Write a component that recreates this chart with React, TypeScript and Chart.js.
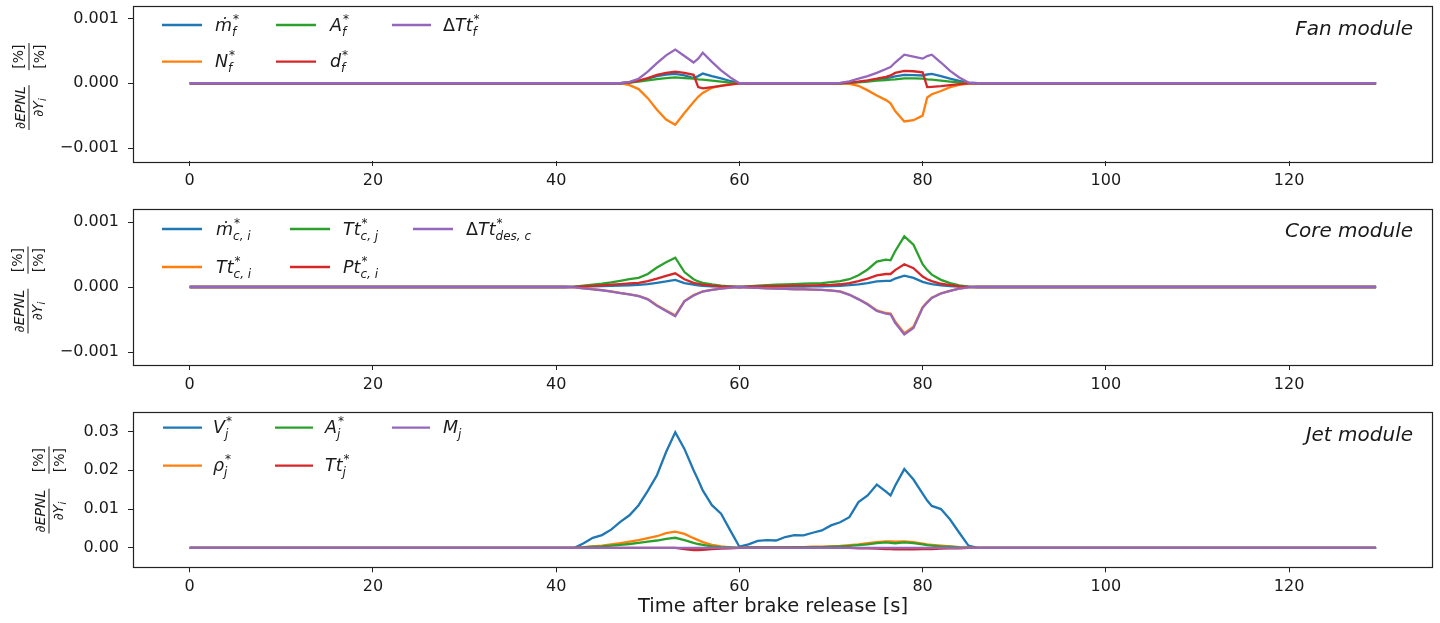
import React, { useEffect, useRef } from 'react';
import { Chart, registerables } from 'chart.js';

Chart.register(...registerables);

// ---------- DATA ----------
const TIME = [0, 40, 41, 42, 43, 44, 45, 46, 47, 48, 49, 50, 51, 52, 53, 54, 55, 55.5, 56, 57, 58, 59, 60,
  61, 62, 63, 64, 65, 66, 67, 68, 69, 70, 71, 72, 73, 74, 75, 76, 76.5, 77, 78, 79, 80, 80.5,
  81, 82, 83, 84, 85, 86, 100, 129.5];

const X_TICKS = [0, 20, 40, 60, 80, 100, 120];
const Y_TICKS_FAN = [-0.001, 0, 0.001];
const Y_TICKS_CORE = [-0.001, 0, 0.001];
const Y_TICKS_JET = [0, 0.01, 0.02, 0.03];

// Fan module
const FAN_MDOT = [0, 0, 0,
  0, 0, 0, 0, 0, 0, 0.1e-4, 0.35e-4, 0.7e-4, 1.1e-4, 1.35e-4, 1.45e-4, 1.2e-4, 0.8e-4,
  1.1e-4,
  1.5e-4, 1.1e-4, 0.75e-4, 0.35e-4, 0,
  0, 0, 0, 0, 0, 0, 0, 0, 0, 0, 0, 0.08e-4, 0.2e-4, 0.35e-4, 0.55e-4, 0.8e-4,
  0.9e-4,
  1.05e-4, 1.3e-4, 1.25e-4, 1.2e-4,
  1.35e-4,
  1.45e-4, 1.1e-4, 0.7e-4, 0.35e-4, 0.1e-4, 0,
  0, 0];
const FAN_N = [0, 0, 0,
  0, 0, 0, 0, 0, 0, -0.3e-4, -0.9e-4, -2.3e-4, -4.1e-4, -5.6e-4, -6.4e-4, -4.6e-4, -2.9e-4,
  -2.1e-4,
  -1.5e-4, -0.7e-4, -0.35e-4, -0.15e-4, 0,
  0, 0, 0, 0, 0, 0, 0, 0, 0, 0, 0, -0.1e-4, -0.4e-4, -1.1e-4, -1.9e-4, -2.6e-4,
  -3.1e-4,
  -4.3e-4, -5.9e-4, -5.7e-4, -5.0e-4,
  -2.2e-4,
  -1.7e-4, -1.2e-4, -0.6e-4, -0.25e-4, -0.05e-4, 0,
  0, 0];
const FAN_A = [0, 0, 0,
  0, 0, 0, 0, 0, 0, 0.1e-4, 0.25e-4, 0.45e-4, 0.65e-4, 0.8e-4, 0.9e-4, 0.8e-4, 0.7e-4,
  0.6e-4,
  0.55e-4, 0.4e-4, 0.25e-4, 0.1e-4, 0,
  0, 0, 0, 0, 0, 0, 0, 0, 0, 0, 0, 0.05e-4, 0.15e-4, 0.25e-4, 0.4e-4, 0.5e-4,
  0.55e-4,
  0.6e-4, 0.75e-4, 0.75e-4, 0.7e-4,
  0.6e-4,
  0.55e-4, 0.4e-4, 0.25e-4, 0.12e-4, 0.03e-4, 0,
  0, 0];
const FAN_D = [0, 0, 0,
  0, 0, 0, 0, 0, 0, 0.15e-4, 0.4e-4, 0.8e-4, 1.3e-4, 1.6e-4, 1.8e-4, 1.6e-4, 1.3e-4,
  -0.6e-4,
  -0.8e-4, -0.6e-4, -0.4e-4, -0.2e-4, 0,
  0, 0, 0, 0, 0, 0, 0, 0, 0, 0, 0, 0.1e-4, 0.25e-4, 0.45e-4, 0.7e-4, 1.0e-4,
  1.2e-4,
  1.6e-4, 1.9e-4, 1.85e-4, 1.7e-4,
  -0.6e-4,
  -0.55e-4, -0.45e-4, -0.3e-4, -0.15e-4, -0.03e-4, 0,
  0, 0];
const FAN_DTT = [0, 0, 0,
  0, 0, 0, 0, 0, 0, 0.2e-4, 0.7e-4, 1.8e-4, 3.1e-4, 4.3e-4, 5.2e-4, 4.2e-4, 3.2e-4,
  3.8e-4,
  4.7e-4, 3.3e-4, 2.0e-4, 0.9e-4, 0,
  0, 0, 0, 0, 0, 0, 0, 0, 0, 0, 0.05e-4, 0.3e-4, 0.7e-4, 1.1e-4, 1.6e-4, 2.2e-4,
  2.5e-4,
  3.2e-4, 4.4e-4, 4.1e-4, 3.8e-4,
  4.2e-4,
  4.4e-4, 3.2e-4, 1.9e-4, 0.9e-4, 0.1e-4, 0,
  0, 0];

// Core module
const CORE_MDOT = [0, 0, 0,
  0.02e-4, 0.05e-4, 0.1e-4, 0.13e-4, 0.17e-4, 0.22e-4, 0.27e-4, 0.33e-4, 0.45e-4, 0.65e-4, 0.85e-4, 1.1e-4, 0.6e-4, 0.35e-4,
  0.25e-4,
  0.18e-4, 0.1e-4, 0.05e-4, 0.02e-4, 0,
  0.02e-4, 0.03e-4, 0.04e-4, 0.05e-4, 0.06e-4, 0.07e-4, 0.08e-4, 0.09e-4, 0.1e-4, 0.13e-4, 0.18e-4, 0.28e-4, 0.42e-4, 0.6e-4, 0.85e-4, 0.95e-4,
  0.95e-4,
  1.3e-4, 1.75e-4, 1.4e-4, 0.8e-4,
  0.6e-4,
  0.45e-4, 0.25e-4, 0.15e-4, 0.05e-4, 0.01e-4, 0,
  0, 0];
const CORE_TTCI = [0, 0, 0,
  -0.05e-4, -0.19e-4, -0.34e-4, -0.48e-4, -0.68e-4, -0.92e-4, -1.12e-4, -1.36e-4, -1.85e-4, -2.8e-4, -3.6e-4, -4.35e-4, -2.15e-4, -1.25e-4,
  -0.97e-4,
  -0.68e-4, -0.43e-4, -0.24e-4, -0.1e-4, 0,
  -0.1e-4, -0.14e-4, -0.19e-4, -0.24e-4, -0.29e-4, -0.34e-4, -0.34e-4, -0.39e-4, -0.44e-4, -0.53e-4, -0.68e-4, -1.15e-4, -1.85e-4, -2.6e-4, -3.6e-4, -4.0e-4,
  -4.1e-4,
  -5.3e-4, -7.1e-4, -6.1e-4, -3.1e-4,
  -2.3e-4,
  -1.65e-4, -0.97e-4, -0.58e-4, -0.24e-4, -0.05e-4, 0,
  0, 0];
const CORE_TTCJ = [0, 0, 0,
  0.05e-4, 0.2e-4, 0.35e-4, 0.5e-4, 0.7e-4, 0.95e-4, 1.2e-4, 1.4e-4, 2.0e-4, 3.0e-4, 3.8e-4, 4.5e-4, 2.3e-4, 1.2e-4,
  0.85e-4,
  0.65e-4, 0.4e-4, 0.2e-4, 0.1e-4, 0,
  0.1e-4, 0.2e-4, 0.3e-4, 0.35e-4, 0.4e-4, 0.45e-4, 0.5e-4, 0.55e-4, 0.6e-4, 0.75e-4, 0.9e-4, 1.2e-4, 1.8e-4, 2.7e-4, 3.9e-4, 4.2e-4,
  4.1e-4,
  5.5e-4, 7.8e-4, 6.5e-4, 3.5e-4,
  2.6e-4,
  1.9e-4, 1.1e-4, 0.6e-4, 0.25e-4, 0.05e-4, 0,
  0, 0];
const CORE_PTCI = [0, 0, 0,
  0.03e-4, 0.1e-4, 0.18e-4, 0.25e-4, 0.35e-4, 0.45e-4, 0.55e-4, 0.65e-4, 0.9e-4, 1.3e-4, 1.7e-4, 2.1e-4, 1.2e-4, 0.65e-4,
  0.5e-4,
  0.35e-4, 0.2e-4, 0.1e-4, 0.05e-4, 0,
  0.05e-4, 0.08e-4, 0.12e-4, 0.15e-4, 0.18e-4, 0.2e-4, 0.22e-4, 0.25e-4, 0.28e-4, 0.33e-4, 0.42e-4, 0.6e-4, 0.9e-4, 1.3e-4, 1.8e-4, 2.0e-4,
  2.0e-4,
  2.6e-4, 3.5e-4, 2.9e-4, 1.6e-4,
  1.2e-4,
  0.9e-4, 0.5e-4, 0.3e-4, 0.1e-4, 0.02e-4, 0,
  0, 0];
const CORE_DTT = [0, 0, 0,
  -0.05e-4, -0.2e-4, -0.35e-4, -0.5e-4, -0.7e-4, -0.95e-4, -1.15e-4, -1.4e-4, -1.9e-4, -2.9e-4, -3.7e-4, -4.5e-4, -2.2e-4, -1.3e-4,
  -1.0e-4,
  -0.7e-4, -0.45e-4, -0.25e-4, -0.1e-4, 0,
  -0.1e-4, -0.15e-4, -0.2e-4, -0.25e-4, -0.3e-4, -0.35e-4, -0.35e-4, -0.4e-4, -0.45e-4, -0.55e-4, -0.7e-4, -1.2e-4, -1.9e-4, -2.7e-4, -3.7e-4, -4.1e-4,
  -4.2e-4,
  -5.5e-4, -7.3e-4, -6.3e-4, -3.2e-4,
  -2.4e-4,
  -1.7e-4, -1.0e-4, -0.6e-4, -0.25e-4, -0.05e-4, 0,
  0, 0];

// Jet module
const JET_V = [0, 0, 0,
  0, 0.0012, 0.0026, 0.0033, 0.0047, 0.0067, 0.0084, 0.011, 0.0147, 0.0187, 0.0247, 0.0298, 0.0255, 0.02,
  0.0175,
  0.0148, 0.011, 0.0088, 0.0045, 0.0003,
  0.0009, 0.0018, 0.002, 0.0019, 0.0028, 0.0033, 0.0032, 0.0039, 0.0045, 0.0058, 0.0066, 0.0079, 0.0118, 0.0135, 0.0163, 0.0145,
  0.0135,
  0.016, 0.0203, 0.0176, 0.014,
  0.0122,
  0.0108, 0.01, 0.0073, 0.0039, 0.0006, 0,
  0, 0];
const JET_RHO = [0, 0, 0,
  0, 0.0002, 0.0004, 0.0006, 0.0009, 0.0012, 0.0016, 0.002, 0.0025, 0.003, 0.0038, 0.0042, 0.0036, 0.0025,
  0.002,
  0.0015, 0.0008, 0.0004, 0.0001, 0,
  0.0001, 0.0001, 0.0001, 0.0001, 0.0002, 0.0002, 0.0002, 0.0003, 0.0003, 0.0004, 0.0005, 0.0007, 0.0009, 0.0012, 0.0015, 0.0017,
  0.0017,
  0.0016, 0.0017, 0.0015, 0.0011,
  0.0009,
  0.0008, 0.0006, 0.0004, 0.0002, 0.0001, 0,
  0, 0];
const JET_A = [0, 0, 0,
  0, 0.0001, 0.0003, 0.0004, 0.0006, 0.0008, 0.001, 0.0013, 0.0016, 0.0019, 0.0023, 0.0026, 0.002, 0.0013,
  0.001,
  0.0008, 0.0004, 0.0002, 0.0001, 0,
  0.0001, 0.0001, 0.0001, 0.0001, 0.0001, 0.0001, 0.0002, 0.0002, 0.0002, 0.0003, 0.0004, 0.0005, 0.0007, 0.0009, 0.0012, 0.0014,
  0.0013,
  0.0012, 0.0014, 0.0012, 0.0009,
  0.0007,
  0.0006, 0.0004, 0.0003, 0.0001, 0, 0,
  0, 0];
const JET_TT = [0, 0, 0,
  0, 0, 0, 0, 0, 0, 0, 0, 0, 0, 0, 0, -0.0003, -0.0006,
  -0.0006,
  -0.0005, -0.0003, -0.0002, -0.0001, 0,
  0, 0, 0, 0, 0, 0, 0, 0, 0, 0, 0, 0, -0.0001, -0.0001, -0.0002, -0.0003,
  -0.0003,
  -0.0004, -0.0004, -0.0004, -0.0003,
  -0.0003,
  -0.0003, -0.0002, -0.0001, -0.0001, 0, 0,
  0, 0];
const JET_M = [0, 0, 0,
  0, 0, 0, 0, 0, 0, 0, 0, 0, 0, 0, 0, 0, 0,
  0,
  0, 0, 0, 0, 0,
  0, 0, 0, 0, 0, 0, 0, 0, 0, 0, 0, 0, 0, 0, 0, 0,
  0,
  0, 0, 0, 0,
  0,
  0, 0, 0, 0, 0, 0,
  0, 0];

// ---------- STYLE ----------
const COLORS = ['#1f77b4', '#ff7f0e', '#2ca02c', '#d62728', '#9467bd'];
const FONT = '"DejaVu Sans"';
const TEXT = '#1a1a1a';
const LINE_W = 2.3;

type Seg = { t: string; it?: boolean };
type Lab = { main: Seg[]; sub?: string; sup?: string };

const FAN_LABELS: Lab[] = [
  { main: [{ t: 'ṁ', it: true }], sub: 'f', sup: '*' },
  { main: [{ t: 'N', it: true }], sub: 'f', sup: '*' },
  { main: [{ t: 'A', it: true }], sub: 'f', sup: '*' },
  { main: [{ t: 'd', it: true }], sub: 'f', sup: '*' },
  { main: [{ t: 'Δ' }, { t: 'Tt', it: true }], sub: 'f', sup: '*' },
];
const CORE_LABELS: Lab[] = [
  { main: [{ t: 'ṁ', it: true }], sub: 'c, i', sup: '*' },
  { main: [{ t: 'Tt', it: true }], sub: 'c, i', sup: '*' },
  { main: [{ t: 'Tt', it: true }], sub: 'c, j', sup: '*' },
  { main: [{ t: 'Pt', it: true }], sub: 'c, i', sup: '*' },
  { main: [{ t: 'Δ' }, { t: 'Tt', it: true }], sub: 'des, c', sup: '*' },
];
const JET_LABELS: Lab[] = [
  { main: [{ t: 'V', it: true }], sub: 'j', sup: '*' },
  { main: [{ t: 'ρ', it: true }], sub: 'j', sup: '*' },
  { main: [{ t: 'A', it: true }], sub: 'j', sup: '*' },
  { main: [{ t: 'Tt', it: true }], sub: 'j', sup: '*' },
  { main: [{ t: 'M', it: true }], sub: 'j' },
];

type Panel = {
  series: number[][];
  labels: Lab[];
  title: string;
  height: number;
  padTop: number;
  xHeight: number;
  yMin: number;
  yMax: number;
  yTicks: number[];
  decimals: number;
  legendLines: number[][];
  legendText: number[];
  legendRows: number[];
  titleY: number;
  yLabel: [number, number];
  xTitle?: [number, number];
};

const PANELS: Panel[] = [
  {
    series: [FAN_MDOT, FAN_N, FAN_A, FAN_D, FAN_DTT], labels: FAN_LABELS, title: 'Fan module',
    height: 200, padTop: 5.5, xHeight: 39, yMin: -0.0012, yMax: 0.0012, yTicks: Y_TICKS_FAN, decimals: 3,
    legendLines: [[162, 202], [276, 316], [392, 431]], legendText: [215, 330, 443], legendRows: [25, 61.7],
    titleY: 30, yLabel: [29, 86.5],
  },
  {
    series: [CORE_MDOT, CORE_TTCI, CORE_TTCJ, CORE_PTCI, CORE_DTT], labels: CORE_LABELS, title: 'Core module',
    height: 200, padTop: 9, xHeight: 35, yMin: -0.0012, yMax: 0.0012, yTicks: Y_TICKS_CORE, decimals: 3,
    legendLines: [[162, 202], [290, 330], [413, 453]], legendText: [216, 343, 466], legendRows: [29, 67],
    titleY: 32, yLabel: [28, 90],
  },
  {
    series: [JET_V, JET_RHO, JET_A, JET_TT, JET_M], labels: JET_LABELS, title: 'Jet module',
    height: 223, padTop: 12, xHeight: 55.7, yMin: -0.005, yMax: 0.035, yTicks: Y_TICKS_JET, decimals: 2,
    legendLines: [[163, 202], [275, 313], [392, 430]], legendText: [213, 325, 443], legendRows: [27.7, 65.7],
    titleY: 36, yLabel: [49, 90], xTitle: [773, 207],
  },
];

const LEG_FS = 17.5;
const SCR_FS = 12;

function drawRich(ctx: CanvasRenderingContext2D, x: number, y: number, lab: Lab) {
  let cx = x;
  for (const s of lab.main) {
    ctx.font = `${s.it ? 'italic ' : ''}${LEG_FS}px ${FONT}`;
    ctx.fillText(s.t, cx, y);
    cx += ctx.measureText(s.t).width;
  }
  if (lab.sub) {
    ctx.font = `italic ${SCR_FS}px ${FONT}`;
    ctx.fillText(lab.sub, cx, y + 5);
  }
  if (lab.sup) {
    ctx.font = `${SCR_FS}px ${FONT}`;
    ctx.fillText(lab.sup, cx + 1, y - 8);
  }
}

function drawYLabel(ctx: CanvasRenderingContext2D, cx: number, cy: number) {
  const fs = 14;
  ctx.save();
  ctx.translate(cx, cy);
  ctx.rotate(-Math.PI / 2);
  ctx.fillStyle = TEXT;
  ctx.strokeStyle = TEXT;
  ctx.textAlign = 'left';
  ctx.textBaseline = 'alphabetic';
  const it = `italic ${fs}px ${FONT}`;
  const up = `${fs}px ${FONT}`;
  const sb = `italic ${fs * 0.7}px ${FONT}`;
  ctx.font = it;
  const wNum = ctx.measureText('∂EPNL').width;
  const wDen1 = ctx.measureText('∂Y').width;
  ctx.font = sb;
  const wSub = ctx.measureText('i').width;
  const wDen = wDen1 + wSub;
  const w1 = Math.max(wNum, wDen) + 2;
  ctx.font = up;
  const wP = ctx.measureText('[%]').width;
  const w2 = wP + 3;
  const gap = 15;
  const total = w1 + gap + w2;
  const x0 = -total / 2;
  ctx.font = it;
  ctx.fillText('∂EPNL', x0 + (w1 - wNum) / 2, -4);
  ctx.fillText('∂Y', x0 + (w1 - wDen) / 2, 4 + fs * 0.74);
  ctx.font = sb;
  ctx.fillText('i', x0 + (w1 - wDen) / 2 + wDen1, 4 + fs * 0.74 + 2.5);
  ctx.lineWidth = 1;
  ctx.beginPath();
  ctx.moveTo(x0, 0);
  ctx.lineTo(x0 + w1, 0);
  const x1 = x0 + w1 + gap;
  ctx.moveTo(x1, 0);
  ctx.lineTo(x1 + w2, 0);
  ctx.stroke();
  ctx.font = up;
  ctx.fillText('[%]', x1 + (w2 - wP) / 2, -4 - fs * 0.14);
  ctx.fillText('[%]', x1 + (w2 - wP) / 2, 4 + fs * 0.78);
  ctx.restore();
}

function decor(p: Panel) {
  return {
    id: 'decor',
    afterDraw(chart: any) {
      const ctx: CanvasRenderingContext2D = chart.ctx;
      const a = chart.chartArea;
      ctx.save();
      // frame
      ctx.strokeStyle = '#222';
      ctx.lineWidth = 1.2;
      ctx.strokeRect(Math.round(a.left) + 0.5, Math.round(a.top) + 0.5, Math.round(a.right - a.left), Math.round(a.bottom - a.top));
      // legend
      ctx.fillStyle = TEXT;
      ctx.textAlign = 'left';
      ctx.textBaseline = 'alphabetic';
      p.labels.forEach((lab, k) => {
        const col = Math.floor(k / 2);
        const row = k % 2;
        const y = p.legendRows[row];
        ctx.strokeStyle = COLORS[k];
        ctx.lineWidth = LINE_W;
        ctx.beginPath();
        ctx.moveTo(p.legendLines[col][0], y);
        ctx.lineTo(p.legendLines[col][1], y);
        ctx.stroke();
        ctx.fillStyle = TEXT;
        drawRich(ctx, p.legendText[col], y + 5.5, lab);
      });
      // panel title
      ctx.font = `italic 20px ${FONT}`;
      ctx.textAlign = 'right';
      ctx.textBaseline = 'middle';
      ctx.fillText(p.title, 1413, p.titleY);
      // x title
      if (p.xTitle) {
        ctx.font = `19.5px ${FONT}`;
        ctx.textAlign = 'center';
        ctx.fillText('Time after brake release [s]', p.xTitle[0], p.xTitle[1]);
      }
      ctx.restore();
      drawYLabel(ctx, p.yLabel[0], p.yLabel[1]);
    },
  };
}

function fmt(v: number, d: number) {
  const s = Math.abs(v).toFixed(d);
  return v < 0 ? '\u2212' + s : s;
}

function makeChart(canvas: HTMLCanvasElement, p: Panel) {
  const tickGrid = { display: true, drawOnChartArea: false, drawTicks: true, tickLength: 5, color: '#222', lineWidth: 1 };
  return new Chart(canvas, {
    type: 'line',
    data: {
      datasets: p.series.map((vals, k) => ({
        data: TIME.map((t, i) => ({ x: t, y: vals[i] })),
        borderColor: COLORS[k],
        backgroundColor: COLORS[k],
        borderWidth: LINE_W,
        pointRadius: 0,
        tension: 0,
        fill: false,
        order: 4 - k,
      })),
    },
    options: {
      animation: false,
      responsive: false,
      devicePixelRatio: 1,
      layout: { padding: { top: p.padTop, right: 8, left: 0, bottom: 0 } },
      plugins: { legend: { display: false }, tooltip: { enabled: false } },
      scales: {
        x: {
          type: 'linear',
          min: -6.19,
          max: 135.6,
          afterBuildTicks: (s: any) => { s.ticks = X_TICKS.map((v) => ({ value: v })); },
          afterFit: (s: any) => { s.height = p.xHeight; s.paddingLeft = 0; s.paddingRight = 0; },
          grid: tickGrid,
          border: { display: false },
          ticks: { autoSkip: false, maxRotation: 0, padding: 5, color: TEXT, font: { family: 'DejaVu Sans', size: 16 }, callback: (v: any) => String(v) },
        },
        y: {
          type: 'linear',
          min: p.yMin,
          max: p.yMax,
          afterBuildTicks: (s: any) => { s.ticks = p.yTicks.map((v) => ({ value: v })); },
          afterFit: (s: any) => { s.width = 133; s.paddingTop = 0; s.paddingBottom = 0; },
          grid: tickGrid,
          border: { display: false },
          ticks: { autoSkip: false, padding: 9, color: TEXT, font: { family: 'DejaVu Sans', size: 16 }, callback: (v: any) => fmt(Number(v), p.decimals) },
        },
      },
    } as any,
    plugins: [decor(p)],
  });
}

export default function App() {
  const r0 = useRef<HTMLCanvasElement>(null);
  const r1 = useRef<HTMLCanvasElement>(null);
  const r2 = useRef<HTMLCanvasElement>(null);
  useEffect(() => {
    const refs = [r0, r1, r2];
    const charts = PANELS.map((p, i) => makeChart(refs[i].current as HTMLCanvasElement, p));
    return () => charts.forEach((c) => c.destroy());
  }, []);
  const tops = [0, 200, 400];
  const refs = [r0, r1, r2];
  return (
    <div style={{ position: 'fixed', left: 0, top: 0, width: 1440, height: 623, background: '#fff' }}>
      {PANELS.map((p, i) => (
        <canvas
          key={i}
          ref={refs[i]}
          width={1440}
          height={p.height}
          style={{ position: 'absolute', left: 0, top: tops[i], width: 1440, height: p.height }}
        />
      ))}
    </div>
  );
}
